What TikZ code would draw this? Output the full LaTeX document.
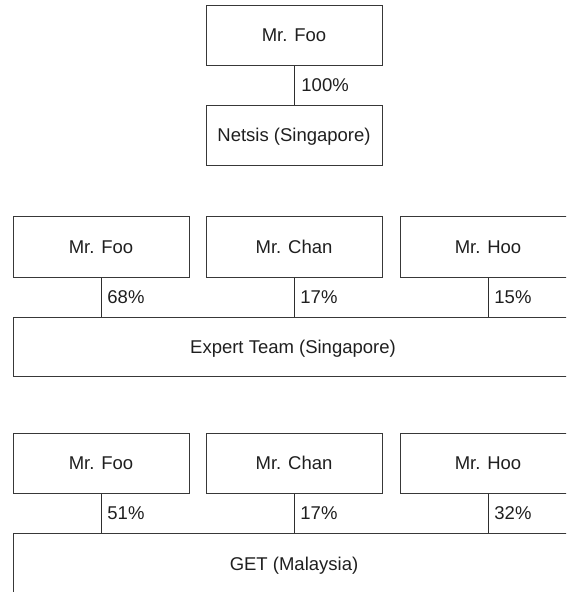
\documentclass[tikz,border=0pt]{standalone}
\usepackage{fontspec}
\setmainfont{Liberation Sans}
\begin{document}
\begin{tikzpicture}[x=1pt,y=1pt,
  box/.style={draw=black!78, line width=1pt, rectangle, inner sep=0pt,
    minimum width=176pt, minimum height=60pt, text=black!88,
    text height=13.3pt, text depth=0pt,
    font=\fontsize{18.5pt}{22pt}\selectfont},
  link/.style={draw=black!82, line width=0.9pt},
  pct/.style={anchor=west, inner sep=0pt, text=black!88,
    text height=13.3pt, text depth=0pt,
    font=\fontsize{18.5pt}{22pt}\selectfont}]
\useasboundingbox (0,0) rectangle (566,-592);
\clip (0,0) rectangle (566,-592);

% Netsis (Singapore)
\node[box] (foo0) at (294,-35) {Mr. Foo};
\node[box] (netsis) at (294,-135) {Netsis (Singapore)};
\draw[link] (foo0.south) -- node[pct, pos=0.5, xshift=7pt] {100\%} (netsis.north);

% Expert Team (Singapore)
\node[box, minimum height=61pt] (foo1) at (101,-246.5) {Mr. Foo};
\node[box, minimum height=61pt] (chan1) at (294,-246.5) {Mr. Chan};
\node[box, minimum height=61pt] (hoo1) at (488,-246.5) {Mr. Hoo};
\node[box, minimum width=560pt, minimum height=59pt] (expert) at (293,-346.5) {Expert Team (Singapore)};
\draw[link] (foo1.south) -- node[pct, xshift=6pt] {68\%} (foo1.south |- expert.north);
\draw[link] (chan1.south) -- node[pct, xshift=6pt] {17\%} (chan1.south |- expert.north);
\draw[link] (hoo1.south) -- node[pct, xshift=6pt] {15\%} (hoo1.south |- expert.north);

% GET (Malaysia)
\node[box] (foo2) at (101,-463) {Mr. Foo};
\node[box] (chan2) at (294,-463) {Mr. Chan};
\node[box] (hoo2) at (488,-463) {Mr. Hoo};
\node[box, minimum width=562pt, minimum height=62pt] (get) at (294,-564) {GET (Malaysia)};
\draw[link] (foo2.south) -- node[pct, xshift=6pt] {51\%} (foo2.south |- get.north);
\draw[link] (chan2.south) -- node[pct, xshift=6pt] {17\%} (chan2.south |- get.north);
\draw[link] (hoo2.south) -- node[pct, xshift=6pt] {32\%} (hoo2.south |- get.north);
\end{tikzpicture}
\end{document}
